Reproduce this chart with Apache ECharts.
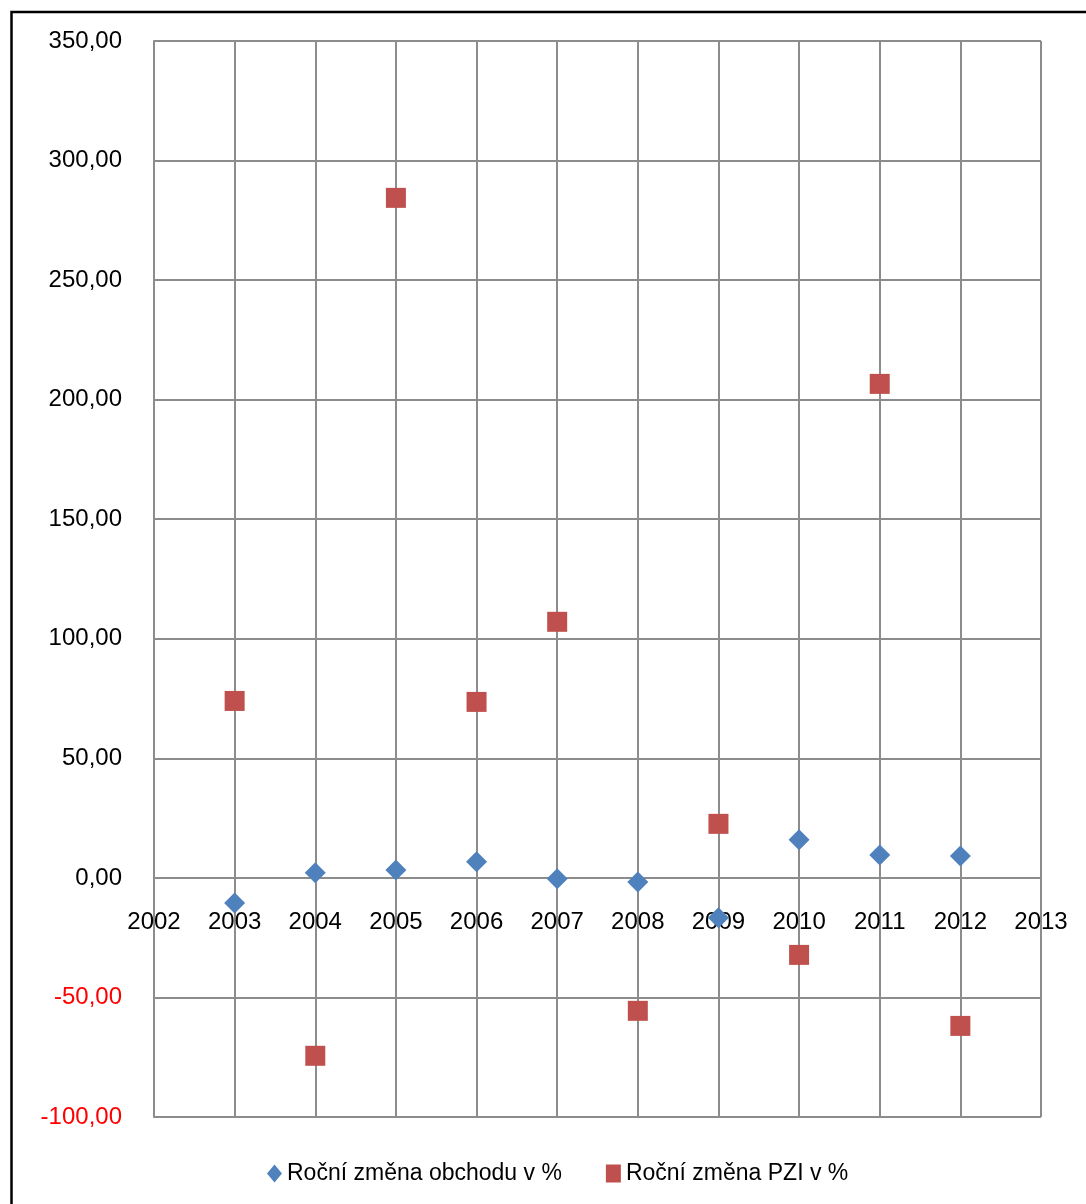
<!DOCTYPE html>
<html>
<head>
<meta charset="utf-8">
<script src="https://cdn.jsdelivr.net/npm/echarts@6/dist/echarts.min.js"></script>
<style>
  html, body { margin: 0; padding: 0; background: #fff; }
  #chart { width: 1086px; height: 1204px; }
</style>
</head>
<body>
<div id="chart"></div>
<script>
// Years and yearly percentage changes
const years = [2003, 2004, 2005, 2006, 2007, 2008, 2009, 2010, 2011, 2012];
const tradeChange = [-10.5, 2.1, 3.3, 6.7, -0.4, -1.7, -16.7, 15.9, 9.6, 9.2];
const fdiChange = [74.0, -74.4, 284.4, 73.6, 107.1, -55.6, 22.6, -32.2, 206.6, -61.9];
const seriesNames = ['Roční změna obchodu v %', 'Roční změna PZI v %'];

const FONT = 'Liberation Sans';
const GRID_COLOR = '#8c8c8c';

// plot box
const GRID = { left: 154, right: 45, top: 41, bottom: 87 };
const Y_MIN = -100, Y_MAX = 350;
const plotHeight = 1204 - GRID.top - GRID.bottom;
// lift the year axis from the bottom edge up to the zero line
const zeroOffset = -plotHeight * (0 - Y_MIN) / (Y_MAX - Y_MIN);

const toPairs = (xs, ys) => xs.map((x, i) => [x, ys[i]]);

const chart = echarts.init(document.getElementById('chart'), null, { renderer: 'canvas' });

chart.setOption({
  backgroundColor: '#fff',
  animation: false,
  textStyle: { fontFamily: FONT },
  graphic: [{
    type: 'rect',
    shape: { x: 11.5, y: 12, width: 1200, height: 1300 },
    style: { fill: 'none', stroke: '#000', lineWidth: 2.5 },
    silent: true
  }],
  grid: GRID,
  legend: {
    left: 262,
    top: 1157,
    itemGap: 44,
    itemWidth: 15,
    itemHeight: 18,
    textStyle: { fontFamily: FONT, fontSize: 23, color: '#000' },
    data: [
      { name: seriesNames[0], icon: 'diamond' },
      { name: seriesNames[1], icon: 'rect' }
    ]
  },
  xAxis: {
    type: 'value',
    min: 2002,
    max: 2013,
    interval: 1,
    position: 'bottom',
    offset: zeroOffset,
    axisLine: { show: true, onZero: false, lineStyle: { color: GRID_COLOR, width: 2 } },
    axisTick: { show: false },
    axisLabel: {
      margin: 32,
      fontFamily: FONT,
      fontSize: 24,
      color: '#000',
      formatter: v => String(v)
    },
    splitLine: { show: true, lineStyle: { color: GRID_COLOR, width: 2 } }
  },
  yAxis: {
    type: 'value',
    min: Y_MIN,
    max: Y_MAX,
    interval: 50,
    axisLine: { show: true, onZero: false, lineStyle: { color: GRID_COLOR, width: 2 } },
    axisTick: { show: false },
    axisLabel: {
      margin: 32,
      fontFamily: FONT,
      fontSize: 24,
      color: v => (v < 0 ? '#ff0000' : '#000'),
      formatter: v => v.toFixed(2).replace('.', ',')
    },
    splitLine: { show: true, lineStyle: { color: GRID_COLOR, width: 2 } }
  },
  series: [
    {
      name: seriesNames[0],
      type: 'scatter',
      symbol: 'diamond',
      symbolSize: 21,
      itemStyle: { color: '#4f81bd', opacity: 1 },
      data: toPairs(years, tradeChange),
      z: 3
    },
    {
      name: seriesNames[1],
      type: 'scatter',
      symbol: 'rect',
      symbolSize: 20,
      itemStyle: { color: '#c0504d', opacity: 1 },
      data: toPairs(years, fdiChange),
      z: 2
    }
  ]
});
</script>
</body>
</html>
